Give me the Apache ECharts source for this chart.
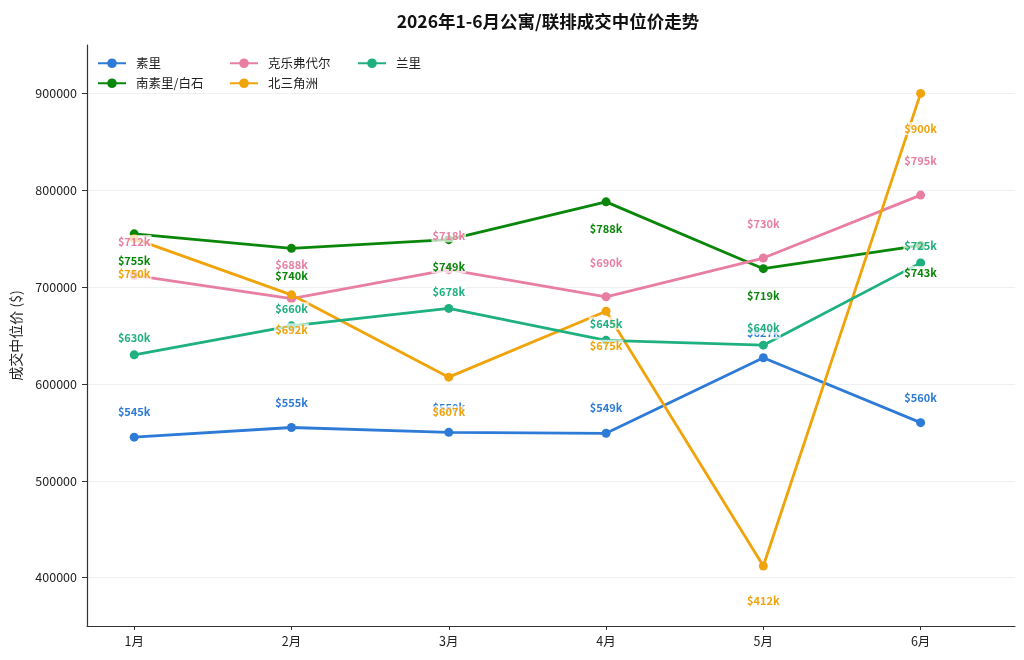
<!DOCTYPE html>
<html><head><meta charset="utf-8">
<script src="https://cdn.jsdelivr.net/npm/echarts@6/dist/echarts.min.js"></script>
<style>html,body{margin:0;padding:0;background:#fff}#c{width:1024px;height:660px}</style>
</head><body><div id="c"></div>
<script>
const months = ['1月','2月','3月','4月','5月','6月'];
const seriesNames = ['素里','南素里/白石','克乐弗代尔','北三角洲','兰里'];
const surrey = [545000,555000,550000,549000,627000,560000];
const southSurrey = [755000,740000,749000,788000,719000,743000];
const cloverdale = [712000,688000,718000,690000,730000,795000];
const northDelta = [750000,692000,607000,675000,412000,900000];
const langley = [630000,660000,678000,645000,640000,725000];
const yTicks = [400000,500000,600000,700000,800000,900000];
const xTicks = [0,1,2,3,4,5];

const seriesValues = [surrey, southSurrey, cloverdale, northDelta, langley];
const styles = [
  {color:'#2E7BD7', dy:-25},
  {color:'#0A870A', dy:27},
  {color:'#E87FA2', dy:-34},
  {color:'#F0A30A', dy:35},
  {color:'#1FB07F', dy:-17}
];
const FONT = '"Noto Sans CJK SC","Noto Sans",sans-serif';

const series = seriesNames.map((name, si) => ({
  name: name,
  type: 'line',
  data: seriesValues[si].map((v, i) => [i, v]),
  symbol: 'circle',
  symbolSize: 9,
  lineStyle: {width: 2.8, color: styles[si].color},
  itemStyle: {color: styles[si].color},
  emphasis: {disabled: true},
  animation: false,
  label: {
    show: true,
    position: 'inside',
    offset: [0, styles[si].dy],
    formatter: p => '$' + Math.round(p.value[1] / 1000) + 'k',
    fontFamily: FONT,
    fontSize: 11,
    fontWeight: 'bold',
    color: styles[si].color,
    textBorderWidth: 0,
    backgroundColor: 'rgba(255,255,255,0.7)',
    padding: [1, 1]
  }
}));

const legendBase = {
  orient: 'vertical',
  top: 57,
  padding: 0,
  itemWidth: 28,
  itemHeight: 12,
  itemGap: 7.5,
  textStyle: {fontFamily: FONT, fontSize: 12.5, color: '#222', padding: [0,0,0,5], lineHeight: 12},
  selectedMode: false
};

const chart = echarts.init(document.getElementById('c'), null, {renderer: 'canvas'});
chart.setOption({
  backgroundColor: '#fff',
  animation: false,
  title: {
    text: '2026年1-6月公寓/联排成交中位价走势',
    left: 543, textAlign: 'center', top: 8,
    textStyle: {fontFamily: FONT, fontSize: 17.5, fontWeight: 'bold', color: '#111'}
  },
  legend: [
    Object.assign({}, legendBase, {left: 97, data: [seriesNames[0], seriesNames[1]]}),
    Object.assign({}, legendBase, {left: 229, data: [seriesNames[2], seriesNames[3]]}),
    Object.assign({}, legendBase, {left: 357, data: [seriesNames[4]]})
  ],
  grid: {left: 87, right: 9, top: 45, bottom: 34, containLabel: false, outerBoundsMode: 'none'},
  xAxis: {
    type: 'value', min: -0.3, max: 5.6,
    axisLine: {show: true, onZero: false, lineStyle: {color: '#333', width: 1.2}},
    axisTick: {show: true, customValues: xTicks, length: 4, lineStyle: {color: '#333'}},
    axisLabel: {customValues: xTicks, formatter: v => months[v], margin: 9,
      fontFamily: FONT, fontSize: 12.5, color: '#222'},
    splitLine: {show: false}
  },
  yAxis: {
    type: 'value', min: 350000, max: 950000,
    name: '成交中位价 ($)', nameLocation: 'middle', nameGap: 64, nameRotate: 90,
    nameTextStyle: {fontFamily: FONT, fontSize: 14, color: '#222'},
    axisLine: {show: true, onZero: false, lineStyle: {color: '#333', width: 1.2}},
    axisTick: {show: true, customValues: yTicks, length: 5, lineStyle: {color: '#333'}},
    axisLabel: {customValues: yTicks, formatter: v => String(v), margin: 10,
      fontFamily: FONT, fontSize: 12.5, color: '#222'},
    splitLine: {show: true, lineStyle: {color: '#f0f0f0', width: 1}}
  },
  series: series
});
</script></body></html>
